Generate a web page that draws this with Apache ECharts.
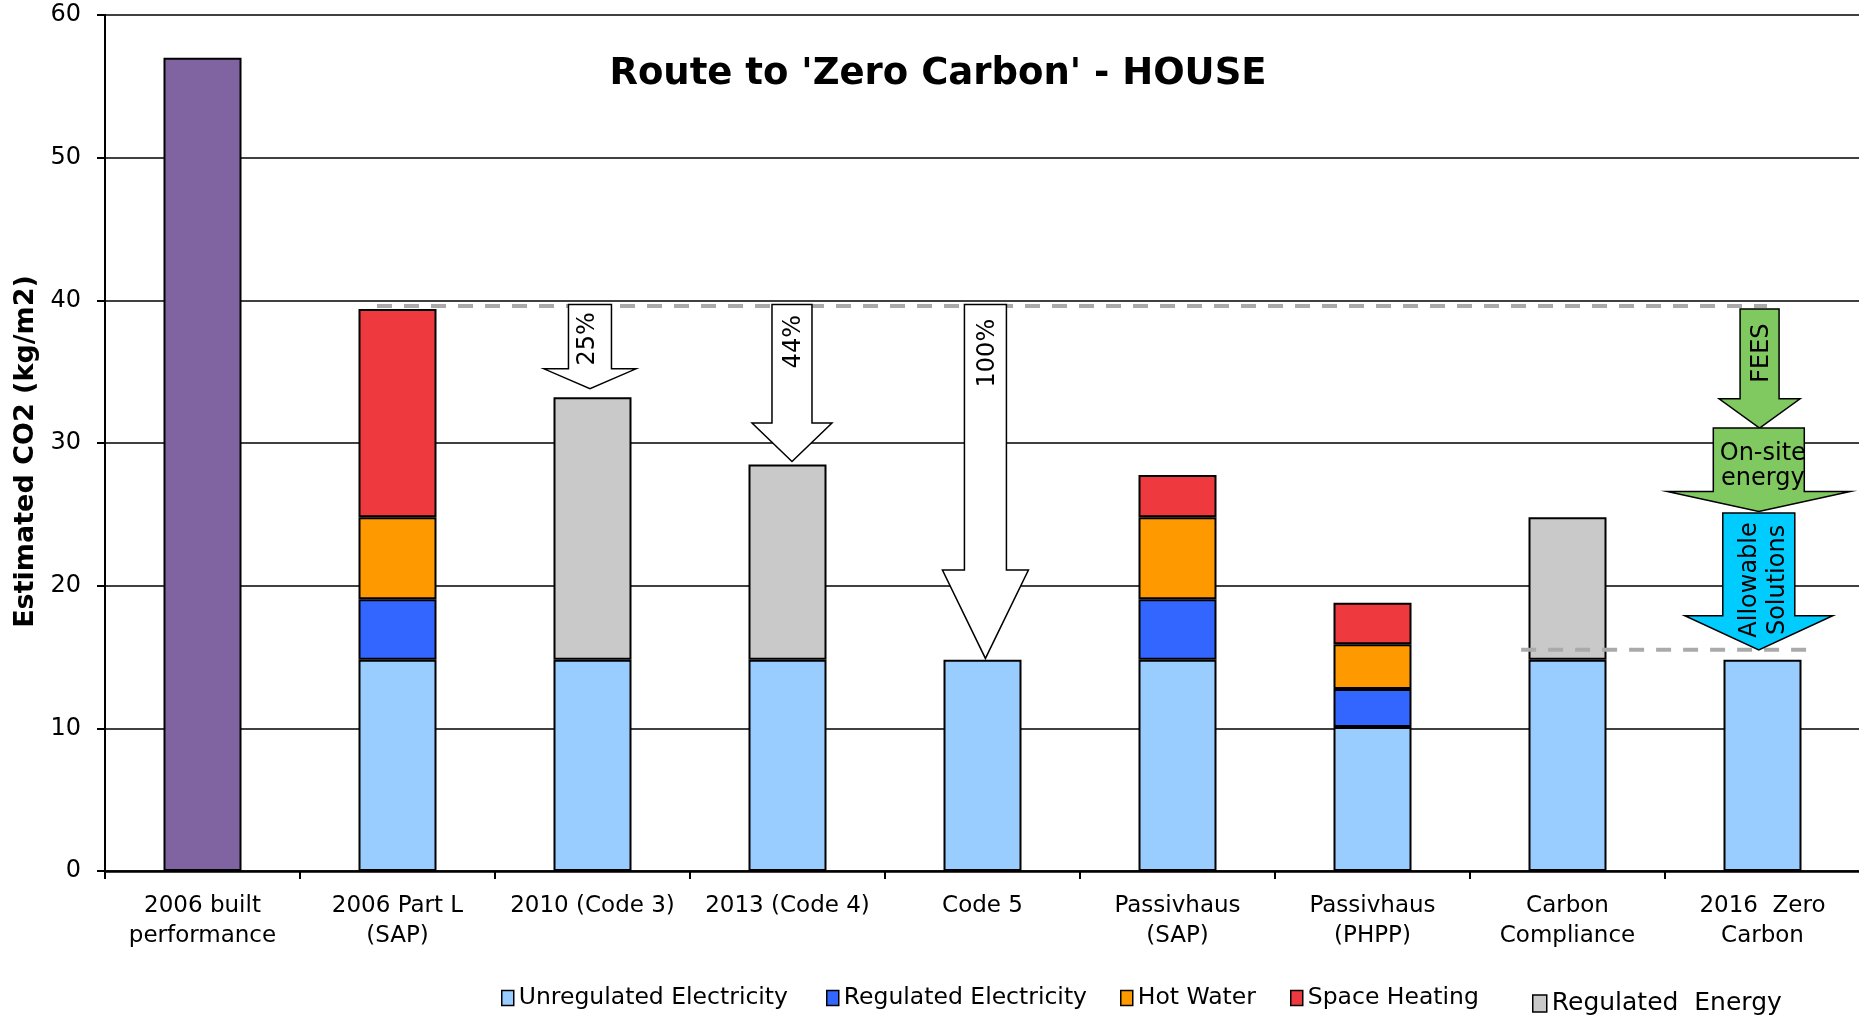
<!DOCTYPE html>
<html><head><meta charset="utf-8">
<script src="https://cdn.jsdelivr.net/npm/echarts@6/dist/echarts.min.js"></script>
<style>html,body{margin:0;padding:0;background:#fff}#c{width:1859px;height:1017px}</style>
</head><body><div id="c"></div>
<script>
// ---- data ----
const categories = ['2006 built\nperformance','2006 Part L\n(SAP)','2010 (Code 3)','2013 (Code 4)','Code 5','Passivhaus\n(SAP)','Passivhaus\n(PHPP)','Carbon\nCompliance','2016  Zero\nCarbon'];
const builtPerformance       = [57, null, null, null, null, null, null, null, null];
const unregulatedElectricity = [null, 14.8, 14.8, 14.8, 14.8, 14.8, 10.1, 14.8, 14.8];
const regulatedElectricity   = [null, 4.25, null, null, null, 4.25, 2.65, null, null];
const hotWater               = [null, 5.75, null, null, null, 5.75, 3.15, null, null];
const spaceHeating           = [null, 14.6, null, null, null, 2.95, 2.9, null, null];
const regulatedEnergy        = [null, null, 18.4, 13.7, null, null, null, 10.0, null];
const yTicks = [0, 10, 20, 30, 40, 50, 60];

// reference levels (dashed): [x in category units, y value]
const baselineLevel = [[1.395, 39.6], [8.523, 39.6]];
const zeroCarbonLevel = [[7.262, 15.5], [8.744, 15.5]];

// arrow annotations (x in category units, y values)
const arrowLabels   = ['25%', '44%', '100%', 'FEES', 'On-site\nenergy', 'Allowable\nSolutions'];
const arrowX        = [2.487, 3.523, 4.515, 8.485, 8.481, 8.481];
const arrowTop      = [39.7, 39.7, 39.7, 39.4, 31.05, 25.1];
const arrowShoulder = [35.2, 31.4, 21.1, 33.1, 26.6, 17.9];
const arrowTip      = [33.8, 28.7, 14.9, 31.05, 25.2, 15.5];
const arrowTextY    = [37.3, 37.1, 36.3, 36.3, 28.4, 20.4];

// ---- styles ----
const arrowStyle = [
  {shaft:43, head:92, fill:'#ffffff', rot:true, dx:-2, lh:26},
  {shaft:40, head:80, fill:'#ffffff', rot:true, dx:2, lh:26},
  {shaft:42, head:86, fill:'#ffffff', rot:true, dx:2, lh:26},
  {shaft:39, head:81, fill:'#80C860', rot:true, dx:2, lh:26},
  {shaft:91, head:183, fill:'#80C860', rot:false, dx:4, lh:25},
  {shaft:72, head:148, fill:'#00CCFF', rot:true, dx:5, lh:28}
];
const FONT = '"DejaVu Sans", Verdana, sans-serif';
const border = {borderColor:'#000', borderWidth:2};

const chart = echarts.init(document.getElementById('c'), null, {renderer:'canvas'});

function barSeries(name, data, color){
  return {name, type:'bar', stack:'total', data, barWidth:78, z:2,
    itemStyle:Object.assign({color}, border)};
}

const legendBase = {orient:'horizontal', padding:0, itemWidth:12, itemHeight:15, icon:'rect',
  itemStyle:{borderColor:'#000', borderWidth:1.5},
  textStyle:{fontFamily:FONT, fontSize:23.5, color:'#000'}, selectedMode:false};

chart.setOption({
  animation:false,
  backgroundColor:'#fff',
  title:{text:"Route to 'Zero Carbon' - HOUSE", left:933, top:51, textAlign:'center',
    textStyle:{fontFamily:FONT, fontWeight:'bold', fontSize:37, color:'#000'}},
  grid:{left:105, right:-1, top:15, bottom:146, containLabel:false, outerBoundsMode:'none'},
  legend:[
    Object.assign({}, legendBase, {data:['Unregulated Electricity'], left:501, top:986}),
    Object.assign({}, legendBase, {data:['Regulated Electricity'], left:826, top:986}),
    Object.assign({}, legendBase, {data:['Hot Water'], left:1120, top:986}),
    Object.assign({}, legendBase, {data:['Space Heating'], left:1290, top:986}),
    Object.assign({}, legendBase, {data:['Regulated  Energy'], left:1532, top:991, itemHeight:17, itemWidth:14,
      textStyle:{fontFamily:FONT, fontSize:25, color:'#000'}})
  ],
  xAxis:[
    {type:'category', data:categories, boundaryGap:true,
      axisLine:{lineStyle:{color:'#000', width:2.5}},
      axisTick:{show:true, length:8, lineStyle:{color:'#000', width:2}},
      axisLabel:{fontFamily:FONT, fontSize:23, color:'#000', lineHeight:30, margin:20, interval:0},
      splitLine:{show:false}},
    {type:'value', min:0, max:9, show:false, splitLine:{show:false}}
  ],
  yAxis:{type:'value', min:yTicks[0], max:yTicks[yTicks.length-1], interval:10,
    name:'Estimated CO2 (kg/m2)', nameLocation:'middle', nameRotate:90, nameGap:66,
    nameTextStyle:{fontFamily:FONT, fontWeight:'bold', fontSize:27, color:'#000', padding:[0,17,0,0]},
    axisLine:{show:true, lineStyle:{color:'#000', width:2}},
    axisTick:{show:true, length:8, lineStyle:{color:'#000', width:2}},
    axisLabel:{fontFamily:FONT, fontSize:24, color:'#000', margin:24},
    splitLine:{show:true, lineStyle:{color:'#000', width:1.5}}},
  series:[
    barSeries('2006 built performance', builtPerformance, '#8064A2'),
    barSeries('Unregulated Electricity', unregulatedElectricity, '#99CCFF'),
    barSeries('Regulated Electricity', regulatedElectricity, '#3366FF'),
    barSeries('Hot Water', hotWater, '#FF9900'),
    barSeries('Space Heating', spaceHeating, '#EE3A3E'),
    barSeries('Regulated  Energy', regulatedEnergy, '#C9C9C9'),
    {type:'line', xAxisIndex:1, data:baselineLevel, symbol:'none', z:3, silent:true,
      lineStyle:{color:'#AAAAAA', width:4, type:[15,12]}},
    {type:'line', xAxisIndex:1, data:zeroCarbonLevel, symbol:'none', z:3, silent:true,
      lineStyle:{color:'#AAAAAA', width:4, type:[15,12]}},
    {type:'custom', xAxisIndex:1, z:4, silent:true,
      data: arrowX.map((x,i)=>[x, arrowTop[i], arrowShoulder[i], arrowTip[i], arrowTextY[i]]),
      renderItem:function(params, api){
        const i = params.dataIndex;
        const s = arrowStyle[i];
        const x = api.value(0);
        const cx = api.coord([x, 0])[0];
        const yT = api.coord([x, api.value(1)])[1];
        const yS = api.coord([x, api.value(2)])[1];
        const yP = api.coord([x, api.value(3)])[1];
        const yTx = api.coord([x, api.value(4)])[1];
        const sw = s.shaft/2, hw = s.head/2;
        const pts = [[cx-sw,yT],[cx+sw,yT],[cx+sw,yS],[cx+hw,yS],[cx,yP],[cx-hw,yS],[cx-sw,yS]];
        return {type:'group', children:[
          {type:'polygon', shape:{points:pts}, style:{fill:s.fill, stroke:'#000', lineWidth:1.5}},
          {type:'text', x:cx+s.dx, y:yTx, rotation:s.rot?Math.PI/2:0,
            style:{text:arrowLabels[i], fill:'#000', font:'24px ' + FONT, align:'center', verticalAlign:'middle', lineHeight:s.lh}}
        ]};
      }}
  ]
});
</script>
</body></html>
